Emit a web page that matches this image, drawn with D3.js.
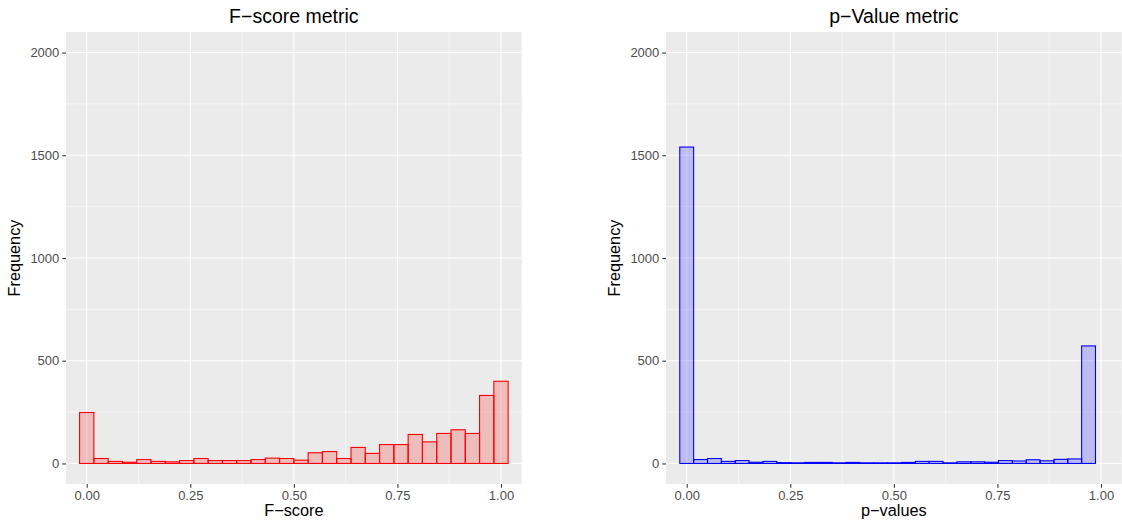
<!DOCTYPE html>
<html>
<head>
<meta charset="utf-8">
<script src="https://cdn.jsdelivr.net/npm/d3@7"></script>
<style>
  body { margin: 0; background: #fff; }
  text { font-family: "Liberation Sans", Arial, sans-serif; }
</style>
</head>
<body>
<div class="chart"></div>
<script>
// histogram counts, 30 bins each
var fscoreCounts = [248, 24, 10, 6, 19, 10, 8, 14, 24, 14, 14, 14, 19, 26, 24,
    16, 52, 58, 24, 78, 49, 92, 92, 141, 105, 146, 164, 146, 331, 400];
var pvalueCounts = [1540, 19, 24, 10, 14, 6, 10, 4, 3, 5, 5, 3, 5, 3, 3,
    3, 5, 10, 10, 3, 8, 8, 6, 14, 12, 18, 13, 20, 22, 572];
var fscoreBinWidth = 1 / 29;
var pvalueBinWidth = 0.97 / 29;

var xTicks = [0, 0.25, 0.5, 0.75, 1];
var xMinor = [0.125, 0.375, 0.625, 0.875];
var yTicks = [0, 500, 1000, 1500, 2000];
var yMinor = [250, 750, 1250, 1750];

var svgWidth = 1122;
var svgHeight = 527;

var panels = [
    { title: "F\u2212score metric", xLabel: "F\u2212score", counts: fscoreCounts,
      binWidth: fscoreBinWidth, color: "red", left: 66 },
    { title: "p\u2212Value metric", xLabel: "p\u2212values", counts: pvalueCounts,
      binWidth: pvalueBinWidth, color: "blue", left: 666 }
];

var panelWidth = 455.7;
var panelTop = 32;
var panelBottom = 484;

var svg = d3.select(".chart")
    .append("svg")
    .attr("width", svgWidth)
    .attr("height", svgHeight);

panels.forEach(function(p) {
    var x = d3.scaleLinear().domain([-0.05, 1.05]).range([p.left, p.left + panelWidth]);
    var y = d3.scaleLinear().domain([-100, 2100]).range([panelBottom, panelTop]);

    var g = svg.append("g");

    // panel background
    g.append("rect")
        .attr("x", p.left)
        .attr("y", panelTop)
        .attr("width", panelWidth)
        .attr("height", panelBottom - panelTop)
        .attr("fill", "#EBEBEB");

    // grid lines
    g.selectAll(".ym").data(yMinor).enter().append("line")
        .attr("x1", p.left).attr("x2", p.left + panelWidth)
        .attr("y1", d => y(d)).attr("y2", d => y(d))
        .attr("stroke", "#fff").attr("stroke-width", 0.55);
    g.selectAll(".xm").data(xMinor).enter().append("line")
        .attr("y1", panelTop).attr("y2", panelBottom)
        .attr("x1", d => x(d)).attr("x2", d => x(d))
        .attr("stroke", "#fff").attr("stroke-width", 0.55);
    g.selectAll(".yM").data(yTicks).enter().append("line")
        .attr("x1", p.left).attr("x2", p.left + panelWidth)
        .attr("y1", d => y(d)).attr("y2", d => y(d))
        .attr("stroke", "#fff").attr("stroke-width", 1.1);
    g.selectAll(".xM").data(xTicks).enter().append("line")
        .attr("y1", panelTop).attr("y2", panelBottom)
        .attr("x1", d => x(d)).attr("x2", d => x(d))
        .attr("stroke", "#fff").attr("stroke-width", 1.1);

    // bars
    g.selectAll(".bar").data(p.counts).enter().append("rect")
        .attr("x", (d, i) => x(i * p.binWidth - p.binWidth / 2))
        .attr("width", x(p.binWidth) - x(0))
        .attr("y", d => y(d))
        .attr("height", d => y(0) - y(d))
        .attr("fill", p.color)
        .attr("fill-opacity", 0.2)
        .attr("stroke", p.color)
        .attr("stroke-width", 1.1);

    // axes
    var xAxis = g.append("g")
        .attr("transform", `translate(0, ${panelBottom})`)
        .call(d3.axisBottom(x).tickValues(xTicks).tickFormat(d3.format(".2f"))
            .tickSize(3.7).tickPadding(3));
    var yAxis = g.append("g")
        .attr("transform", `translate(${p.left}, 0)`)
        .call(d3.axisLeft(y).tickValues(yTicks).tickFormat(d3.format("d"))
            .tickSize(3.7).tickPadding(3));
    [xAxis, yAxis].forEach(function(a) {
        a.select(".domain").remove();
        a.selectAll("line").attr("stroke", "#333").attr("stroke-width", 1.07);
        a.selectAll("text").attr("fill", "#4D4D4D").style("font-size", "13px")
            .style("font-family", "'Liberation Sans', Arial, sans-serif");
    });

    // titles
    g.append("text")
        .attr("x", p.left + panelWidth / 2)
        .attr("y", 22.5)
        .attr("text-anchor", "middle")
        .style("font-size", "19.5px")
        .text(p.title);
    g.append("text")
        .attr("x", p.left + panelWidth / 2)
        .attr("y", 516)
        .attr("text-anchor", "middle")
        .style("font-size", "16.3px")
        .text(p.xLabel);
    g.append("text")
        .attr("transform", `translate(${p.left - 46}, ${(panelTop + panelBottom) / 2}) rotate(-90)`)
        .attr("text-anchor", "middle")
        .style("font-size", "16.3px")
        .text("Frequency");
});
</script>
</body>
</html>
